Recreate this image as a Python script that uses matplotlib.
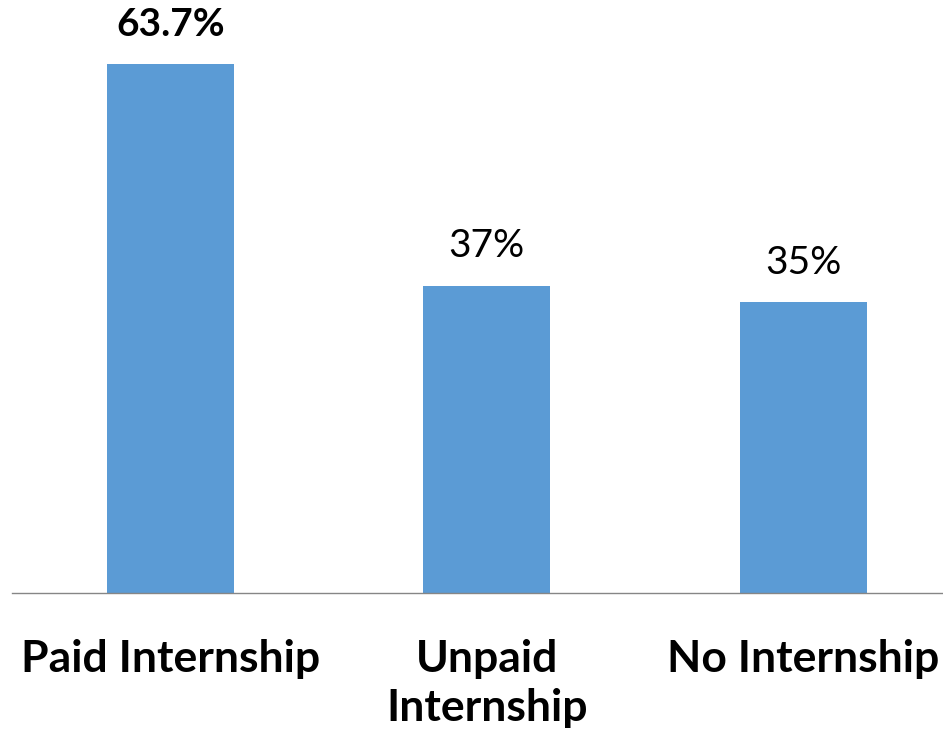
import matplotlib
matplotlib.use("Agg")
import matplotlib.pyplot as plt

categories = ["Paid Internship", "Unpaid\nInternship", "No Internship"]
values = [63.7, 37, 35]
value_labels = ["63.7%", "37%", "35%"]
label_bold = [True, False, False]

plt.rcParams['font.family'] = ['Lato', 'DejaVu Sans']

fig = plt.figure(figsize=(9.43, 7.36), dpi=100)
ax = fig.add_axes([12 / 943, 143 / 736, 931 / 943, 593 / 736])

x = range(len(values))
ax.bar(x, values, width=0.4, color="#5B9BD5")
for i, v in enumerate(values):
    ax.text(i, v + 2.6, value_labels[i], ha="center", va="bottom", fontsize=28,
            fontweight="bold" if label_bold[i] else "normal", color="black")

ax.set_xlim(-0.5, -0.5 + 931 / 316.5)
ax.set_ylim(0, 71.4)
ax.set_xticks(list(x))
ax.set_xticklabels(categories, fontsize=32, fontweight="bold", linespacing=1.28)
ax.tick_params(axis="x", length=0, pad=33)
ax.set_yticks([])
for s in ["top", "right", "left"]:
    ax.spines[s].set_visible(False)
ax.spines["bottom"].set_color("#868686")
ax.spines["bottom"].set_linewidth(1)

fig.savefig("out.png", dpi=100)
